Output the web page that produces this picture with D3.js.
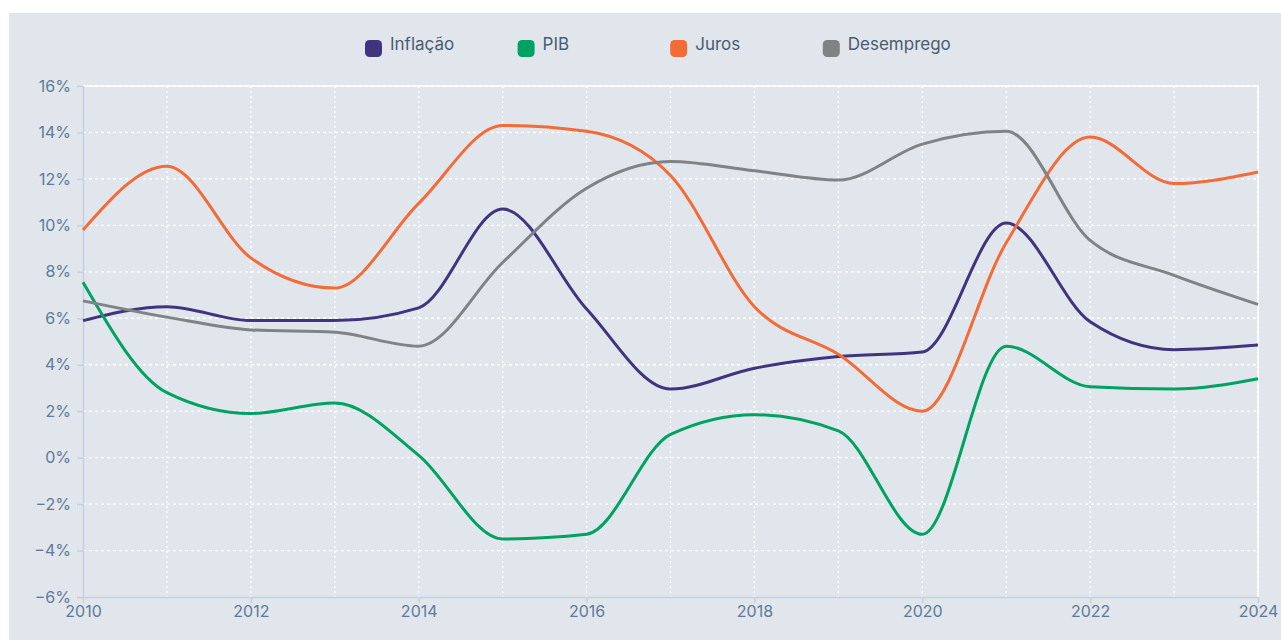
<!DOCTYPE html>
<html>
<head>
<meta charset="utf-8">
<script src="https://cdn.jsdelivr.net/npm/d3@7.9.0/dist/d3.min.js"></script>
<style>
  html, body { margin: 0; padding: 0; background: #fff; }
  body { width: 1281px; height: 640px; overflow: hidden; font-family: Inter, "Noto Sans", sans-serif; }
  .grid-x line { stroke: #fff; stroke-dasharray: 2 3; stroke-width: 1.3; }
  .grid-y line { stroke: #fff; stroke-dasharray: 3 3; stroke-width: 1.3; }
  .axis path, .axis line { stroke: #c5d2de; stroke-width: 1.5; }
  .axis text { fill: #5f7a96; font-size: 16px; font-family: Inter, sans-serif; }
</style>
</head>
<body>
<div id="chart"></div>
<script>
/* ---------- data --------- */
const years = d3.range(2010, 2025);
const seriesNames = ['Inflação', 'PIB', 'Juros', 'Desemprego'];
const seriesColors = ['#41347f', '#00a263', '#f36c37', '#7f8385'];

const inflacao   = [5.9, 6.5, 5.9, 5.9, 6.45, 10.7, 6.4, 2.95, 3.85, 4.35, 4.55, 10.1, 5.85, 4.65, 4.85];
const pib        = [7.55, 2.8, 1.9, 2.35, 0.1, -3.5, -3.3, 1.0, 1.85, 1.15, -3.3, 4.8, 3.05, 2.95, 3.4];
const juros      = [9.8, 12.55, 8.6, 7.3, 10.95, 14.3, 14.05, 12.15, 6.5, 4.45, 2.0, 9.25, 13.8, 11.8, 12.3];
const desemprego = [6.75, 6.05, 5.5, 5.4, 4.8, 8.4, 11.6, 12.75, 12.35, 11.95, 13.5, 14.05, 9.35, 7.85, 6.6];

const yTicks = d3.range(-6, 17, 2);

/* ---------- layout --------- */
const W = 1281, H = 640;
const area = { l: 83, r: 1258, t: 86, b: 597 };

const svg = d3.select('#chart').append('svg')
  .attr('width', W).attr('height', H);

// panel background
svg.append('rect')
  .attr('x', 9).attr('y', 13)
  .attr('width', W - 9).attr('height', H - 13)
  .attr('fill', '#e1e5ec');

const x = d3.scaleLinear().domain([2010, 2024]).range([area.l, area.r]);
const y = d3.scaleLinear().domain([-6, 16]).range([area.b, area.t]);

// gridlines
svg.append('g').attr('class', 'grid-x')
  .selectAll('line').data(years.slice(1)).join('line')
  .attr('x1', d => x(d)).attr('x2', d => x(d))
  .attr('y1', area.t).attr('y2', area.b);

svg.append('g').attr('class', 'grid-y')
  .selectAll('line').data(yTicks.slice(1)).join('line')
  .attr('x1', area.l).attr('x2', area.r)
  .attr('y1', d => y(d)).attr('y2', d => y(d));

// solid top & right edges
svg.append('path')
  .attr('d', `M${area.l},${area.t}H${area.r}V${area.b}`)
  .attr('fill', 'none').attr('stroke', '#fff').attr('stroke-width', 1.5);

// axes
svg.append('g').attr('class', 'axis')
  .attr('transform', `translate(0,${area.b})`)
  .call(d3.axisBottom(x).tickValues(d3.range(2010, 2025, 2)).tickFormat(d3.format('d')).tickSize(6).tickPadding(3))
  .call(g => g.select('.domain').attr('d', `M${area.l},0.5H${area.r}`));

svg.append('g').attr('class', 'axis')
  .attr('transform', `translate(${area.l},0)`)
  .call(d3.axisLeft(y).tickValues(yTicks).tickFormat(d => d + '%').tickSize(6).tickPadding(6))
  .call(g => g.select('.domain').attr('d', `M0.5,${area.t}V${area.b}`))
  .selectAll('text').text(d => (d < 0 ? '\u2212' + Math.abs(d) : d) + '%');

// lines
const allSeries = [inflacao, pib, juros, desemprego];
const line = d3.line()
  .x((d, i) => x(years[i]))
  .y(d => y(d))
  .curve(d3.curveMonotoneX);

svg.append('g').selectAll('path')
  .data(allSeries).join('path')
  .attr('d', line)
  .attr('fill', 'none')
  .attr('stroke', (d, i) => seriesColors[i])
  .attr('stroke-width', 3)
  .attr('stroke-linejoin', 'round');

// legend
const legend = svg.append('g').attr('transform', 'translate(365,0)');
const item = legend.selectAll('g').data(seriesNames).join('g')
  .attr('transform', (d, i) => `translate(${i * 152.6},0)`);
item.append('rect')
  .attr('x', 0).attr('y', 40).attr('width', 17).attr('height', 17).attr('rx', 4.5)
  .attr('fill', (d, i) => seriesColors[i]);
item.append('text')
  .attr('x', 25).attr('y', 50)
  .attr('fill', '#4b5b70')
  .style('font-size', '17px')
  .text(d => d);
</script>
</body>
</html>
